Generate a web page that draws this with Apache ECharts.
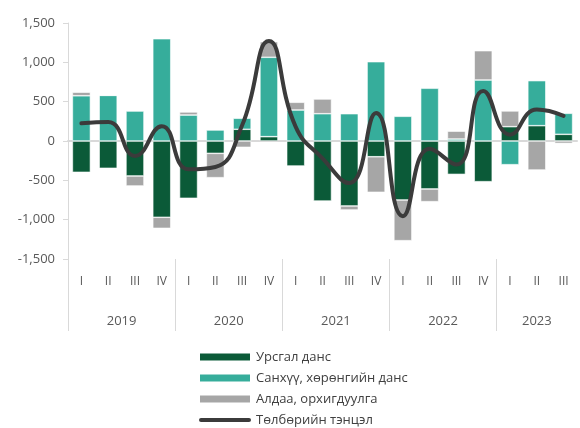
<!DOCTYPE html>
<html>
<head>
<meta charset="utf-8">
<script src="https://cdn.jsdelivr.net/npm/echarts@6/dist/echarts.min.js"></script>
<style>
html,body{margin:0;padding:0;background:#fff;}
#chart{width:580px;height:428px;}
</style>
</head>
<body>
<div id="chart"></div>
<script>
var quarters = ['I','II','III','IV','I','II','III','IV','I','II','III','IV','I','II','III','IV','I','II','III'];
var years = ['2019','2020','2021','2022','2023'];
var yearQuarterCounts = [4,4,4,4,3];
var currentAccount = [-398,-347,-445,-970, -728,-157,149,55, -318,-763,-826,-200, -750,-610,-424,-517, 182,195,85];
var financialAccount = [575,580,381,1300, 330,140,140,1009, 394,347,347,1008, 314,670,25,775, -301,572,267];
var errorsOmissions = [45,0,-127,-140, 39,-309,-80,198, 98,187,-51,-452, -517,-161,100,373, 200,-369,-30];
var balance = [225,240,-190,188, -360,-330,200,1270, 180,-220,-535,355, -955,-100,-300,635, 80,400,320];
var yTicks = {min:-1500, max:1500, step:500};
var seriesNames = ['Урсгал данс','Санхүү, хөрөнгийн данс','Алдаа, орхигдуулга','Төлбөрийн тэнцэл'];

// half-quarter positions for year labels and separators
var halfCats = [];
var yearLabelAt = {};
var sepAt = {};
var pos = 0;
for (var i = 0; i < years.length; i++) {
  sepAt[pos * 2] = true;
  yearLabelAt[pos * 2 + yearQuarterCounts[i]] = years[i];
  pos += yearQuarterCounts[i];
}
for (var k = 0; k <= pos * 2; k++) halfCats.push(yearLabelAt[k] || '');

var font = '"Open Sans", "Noto Sans", sans-serif';
var chart = echarts.init(document.getElementById('chart'), null, {renderer:'canvas'});
chart.setOption({
  animation: false,
  textStyle: {fontFamily: font},
  grid: {left: 68, right: 0, top: 23, height: 236, containLabel: false},
  legend: {
    orient: 'vertical', left: 193, top: 345, height: 83,
    itemWidth: 52, itemHeight: 9, itemGap: 7,
    textStyle: {fontSize: 13, color: '#404040', fontFamily: font, lineHeight: 14},
    data: [
      {name: seriesNames[0], icon: 'rect'},
      {name: seriesNames[1], icon: 'rect'},
      {name: seriesNames[2], icon: 'rect'},
      {name: seriesNames[3], icon: 'path://M2,0 L50,0 A2,2 0 0 1 50,4 L2,4 A2,2 0 0 1 2,0 Z',
       itemStyle: {color: '#3b3b3b'}}
    ]
  },
  xAxis: [
    {type: 'category', data: quarters, gridIndex: 0, position: 'bottom',
     axisLine: {onZero: true, lineStyle: {color: '#d9d9d9', width: 2}},
     axisTick: {show: false}, axisLabel: {show: false}},
    {type: 'category', data: quarters, gridIndex: 0, position: 'bottom',
     axisLine: {show: false, onZero: false}, axisTick: {show: false},
     axisLabel: {interval: 0, margin: 17, fontSize: 12, color: '#595959', fontFamily: font}},
    {type: 'category', data: halfCats, boundaryGap: false, gridIndex: 0, position: 'bottom',
     axisLine: {show: false, onZero: false},
     axisTick: {show: true, length: 72, inside: false,
       interval: function (idx) { return !!sepAt[idx]; },
       lineStyle: {color: '#d9d9d9', width: 1}},
     axisLabel: {interval: 0, margin: 56, fontSize: 13, color: '#595959', fontFamily: font}}
  ],
  yAxis: {
    type: 'value', min: yTicks.min, max: yTicks.max, interval: yTicks.step,
    axisLine: {show: true, lineStyle: {color: '#d9d9d9', width: 1}},
    axisTick: {show: true, length: 5, lineStyle: {color: '#d9d9d9'}},
    splitLine: {show: false},
    axisLabel: {margin: 13, fontSize: 13, color: '#595959', fontFamily: font,
      formatter: function (v) { return v.toLocaleString('en-US'); }}
  },
  series: [
    {name: seriesNames[0], type: 'bar', stack: 'bop', data: currentAccount, barWidth: 18,
     itemStyle: {color: '#0b5a38', borderColor: '#ffffff', borderWidth: 0.6}},
    {name: seriesNames[1], type: 'bar', stack: 'bop', data: financialAccount, barWidth: 18,
     itemStyle: {color: '#36ad9b', borderColor: '#ffffff', borderWidth: 0.6}},
    {name: seriesNames[2], type: 'bar', stack: 'bop', data: errorsOmissions, barWidth: 18,
     itemStyle: {color: '#a6a6a6', borderColor: '#ffffff', borderWidth: 0.6}},
    {name: seriesNames[3], type: 'line', data: balance, smooth: 0.5, symbol: 'none',
     lineStyle: {color: '#3b3b3b', width: 4, cap: 'round'}, itemStyle: {color: '#3b3b3b'}, z: 5}
  ]
});
</script>
</body>
</html>
